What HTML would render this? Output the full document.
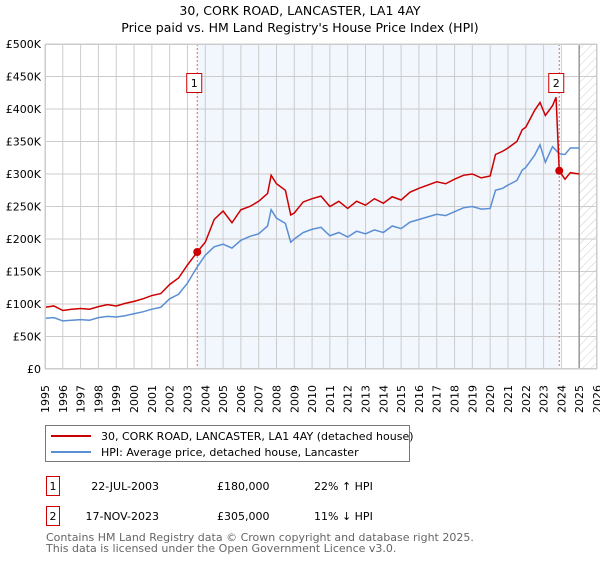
<!DOCTYPE html>
<html><head><meta charset="utf-8"><style>
body{margin:0;background:#fff;font-family:"DejaVu Sans","Liberation Sans",sans-serif;}
svg text{font-family:"DejaVu Sans","Liberation Sans",sans-serif;}
</style></head><body>
<svg id="chart" width="600" height="560" xmlns="http://www.w3.org/2000/svg">
<defs><pattern id="hatch" width="6" height="6" patternUnits="userSpaceOnUse" patternTransform="rotate(45)"><line x1="0" y1="0" x2="0" y2="6" stroke="#ccc" stroke-width="1"/></pattern></defs>
<text x="300" y="15" text-anchor="middle" font-size="12.5">30, CORK ROAD, LANCASTER, LA1 4AY</text>
<text x="300" y="32" text-anchor="middle" font-size="12.5">Price paid vs. HM Land Registry's House Price Index (HPI)</text>
<g id="plot"></g>
<rect x="45.5" y="425.5" width="364" height="36" fill="#fff" stroke="#777"/>
<line x1="51" y1="436" x2="91" y2="436" stroke="#cc0000" stroke-width="2"/>
<text x="101" y="440" font-size="11">30, CORK ROAD, LANCASTER, LA1 4AY (detached house)</text>
<line x1="51" y1="452" x2="91" y2="452" stroke="#5b8fd4" stroke-width="2"/>
<text x="101" y="456" font-size="11">HPI: Average price, detached house, Lancaster</text>
<g font-size="11">
<rect x="46.5" y="476.5" width="13" height="19" fill="#fff" stroke="#cc0000"/>
<text x="53" y="490" text-anchor="middle">1</text>
<text x="159" y="490" text-anchor="end">22-JUL-2003</text>
<text x="217" y="490">£180,000</text>
<text x="314" y="490">22% ↑ HPI</text>
</g>
<g font-size="11">
<rect x="46.5" y="506.5" width="13" height="19" fill="#fff" stroke="#cc0000"/>
<text x="53" y="520" text-anchor="middle">2</text>
<text x="159" y="520" text-anchor="end">17-NOV-2023</text>
<text x="217" y="520">£305,000</text>
<text x="314" y="520">11% ↓ HPI</text>
</g>
<text x="46" y="541" font-size="11" fill="#666">Contains HM Land Registry data © Crown copyright and database right 2025.</text>
<text x="46" y="552" font-size="11" fill="#666">This data is licensed under the Open Government Licence v3.0.</text>
</svg>
<script>
const hpiYears=[1995,1995.5,1996,1996.5,1997,1997.5,1998,1998.5,1999,1999.5,2000,2000.5,2001,2001.5,2002,2002.5,2003,2003.5,2004,2004.5,2005,2005.5,2006,2006.5,2007,2007.5,2007.7,2008,2008.5,2008.8,2009,2009.5,2010,2010.5,2011,2011.5,2012,2012.5,2013,2013.5,2014,2014.5,2015,2015.5,2016,2016.5,2017,2017.5,2018,2018.5,2019,2019.5,2020,2020.3,2020.7,2021,2021.5,2021.8,2022,2022.5,2022.8,2023.1,2023.5,2023.9,2024.2,2024.5,2025];
const hpiValues=[78,79,74,75,76,75,79,81,80,82,85,88,92,95,108,115,132,155,175,188,192,186,198,204,208,220,245,232,224,195,200,210,215,218,205,210,203,212,208,214,210,220,216,226,230,234,238,236,242,248,250,246,247,275,278,283,290,306,310,329,345,318,342,331,330,340,340];
const priceYears=[1995,1995.5,1996,1996.5,1997,1997.5,1998,1998.5,1999,1999.5,2000,2000.5,2001,2001.5,2002,2002.5,2003,2003.55,2004,2004.5,2005,2005.5,2006,2006.5,2007,2007.5,2007.7,2008,2008.5,2008.8,2009,2009.5,2010,2010.5,2011,2011.5,2012,2012.5,2013,2013.5,2014,2014.5,2015,2015.5,2016,2016.5,2017,2017.5,2018,2018.5,2019,2019.5,2020,2020.3,2020.7,2021,2021.5,2021.8,2022,2022.5,2022.8,2023.1,2023.5,2023.7,2023.88,2024.2,2024.5,2025];
const priceValues=[95,97,90,92,93,92,96,99,97,101,104,108,113,116,130,140,160,180,195,230,243,225,245,250,258,270,298,285,275,237,240,257,262,266,250,258,247,258,252,262,255,265,260,272,278,283,288,285,292,298,300,294,297,330,335,340,350,368,372,398,410,390,405,418,305,292,302,300];
const saleYears=[2003.55,2023.88];
const saleValues=[180,305];
const yTicks=[0,50,100,150,200,250,300,350,400,450,500];
const yLabels=["£0","£50K","£100K","£150K","£200K","£250K","£300K","£350K","£400K","£450K","£500K"];
const xTicks=[1995,1996,1997,1998,1999,2000,2001,2002,2003,2004,2005,2006,2007,2008,2009,2010,2011,2012,2013,2014,2015,2016,2017,2018,2019,2020,2021,2022,2023,2024,2025,2026];
const X0=45,X1=597,Y0=369,Y1=44;
const xs=y=>X0+(y-1995)/(2026-1995)*(X1-X0);
const ys=v=>Y0-v/500*(Y0-Y1);
const NS="http://www.w3.org/2000/svg";
const g=document.getElementById('plot');
function el(t,a,p){const e=document.createElementNS(NS,t);for(const k in a)e.setAttribute(k,a[k]);(p||g).appendChild(e);return e;}
const shade=el('rect',{x:xs(saleYears[0]),y:Y1,width:xs(saleYears[1])-xs(saleYears[0]),height:Y0-Y1,fill:'#eef3fc',opacity:0.75});


const hatch=el('rect',{x:xs(2025),y:Y1,width:X1-xs(2025),height:Y0-Y1,fill:'url(#hatch)'});


xTicks.forEach(t=>{const l=el('line',{x1:xs(t),x2:xs(t),y1:Y1,y2:Y0,stroke:'#ccc'});


const tx=el('text',{x:0,y:0,'font-size':11,'text-anchor':'end',transform:`translate(${xs(t)+4},385) rotate(-90)`});tx.textContent=t;

});
yTicks.forEach((t,i)=>{const l=el('line',{x1:X0,x2:X1,y1:ys(t),y2:ys(t),stroke:'#ccc'});


const tx=el('text',{x:41,y:ys(t)+4,'font-size':11,'text-anchor':'end'});tx.textContent=yLabels[i];

});
const vl=el('line',{x1:xs(2025),x2:xs(2025),y1:Y1,y2:Y0,stroke:'#999','stroke-width':1.5});


saleYears.forEach((s,i)=>{const l=el('line',{x1:xs(s),x2:xs(s),y1:Y1,y2:Y0,stroke:'#e06666','stroke-dasharray':'2,2'});

});
const hp=el('polyline',{points:hpiYears.map((y,i)=>xs(y)+','+ys(hpiValues[i])).join(' '),fill:'none',stroke:'#5b8fd4','stroke-width':1.5});


const pp=el('polyline',{points:priceYears.map((y,i)=>xs(y)+','+ys(priceValues[i])).join(' '),fill:'none',stroke:'#cc0000','stroke-width':1.5});


saleYears.forEach((s,i)=>{const c=el('circle',{cx:xs(s),cy:ys(saleValues[i]),r:4,fill:'#cc0000'});


const bx=xs(s)-3;const r=el('rect',{x:bx-7.5,y:73.5,width:15,height:19,fill:'#fff',stroke:'#cc0000'});


const tx=el('text',{x:bx,y:87,'font-size':11,'text-anchor':'middle'});tx.textContent=i+1;

});
el('rect',{x:X0+0.5,y:Y1+0.5,width:X1-X0-1,height:Y0-Y1-1,fill:'none',stroke:'#ccc'});
</script>
</body></html>
